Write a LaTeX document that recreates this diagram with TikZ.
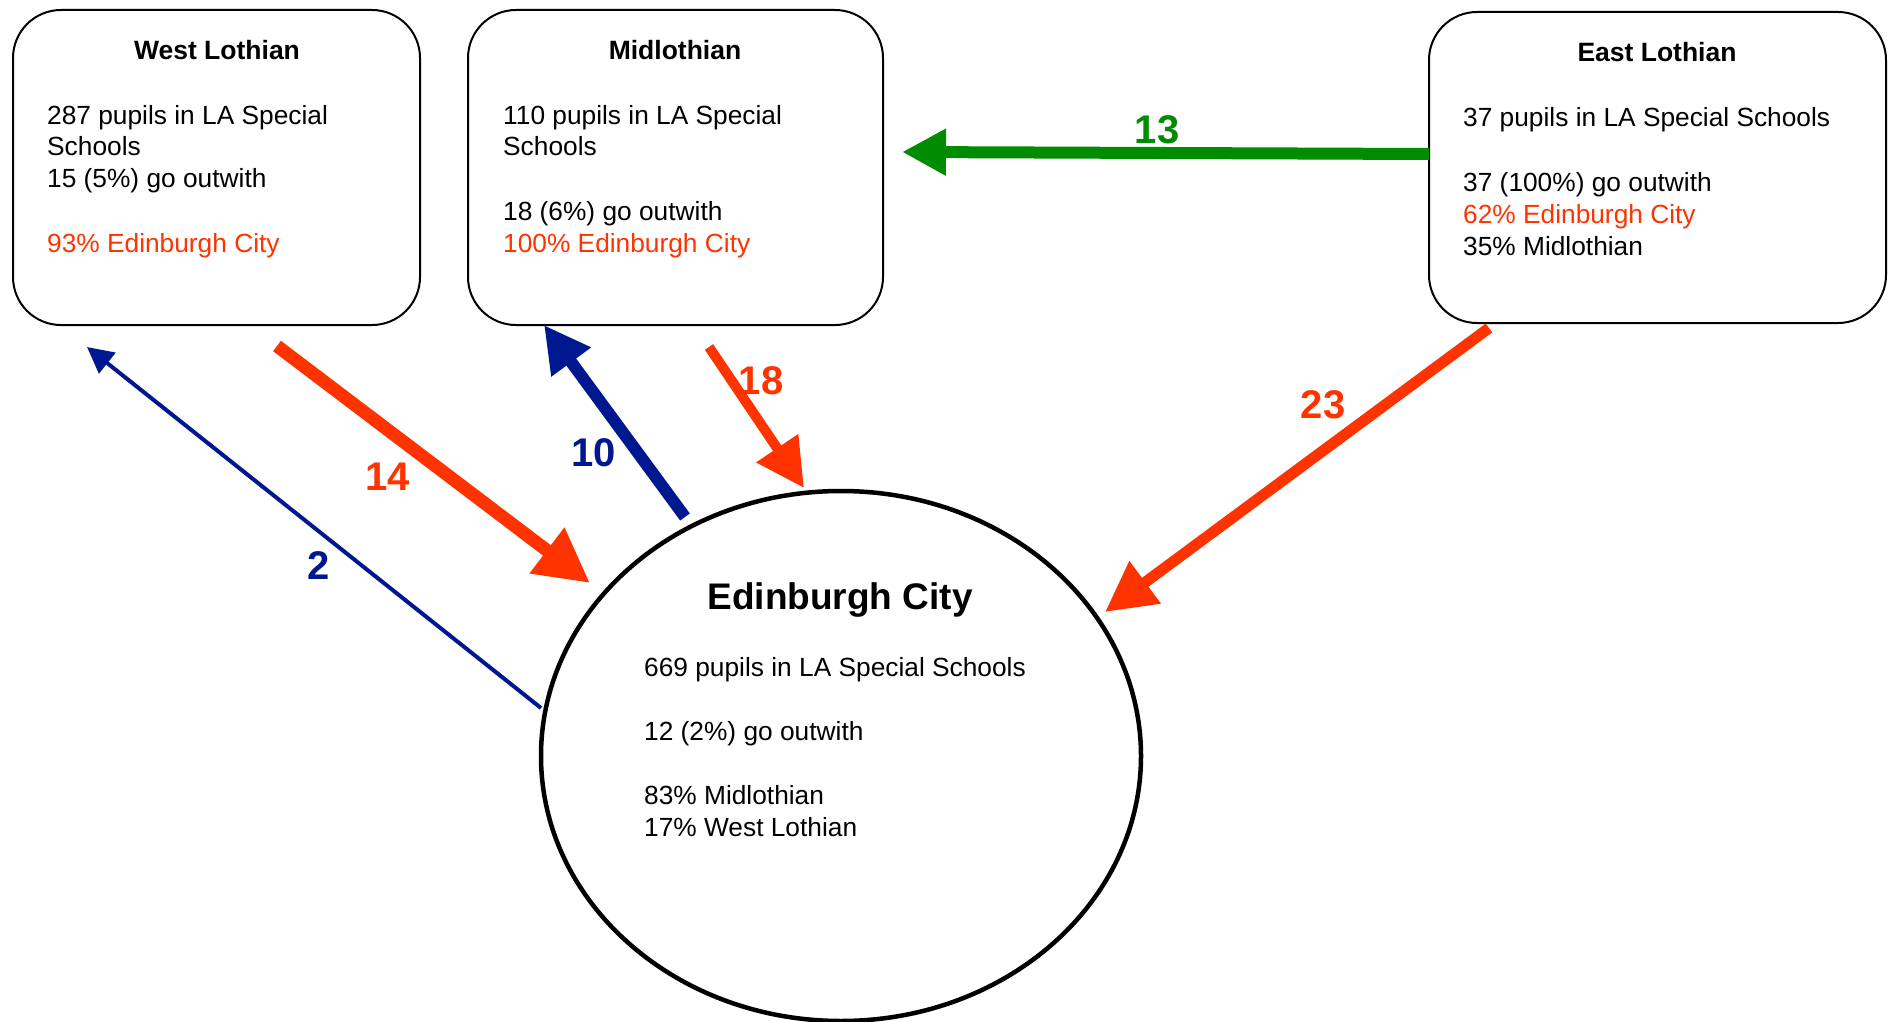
\documentclass[tikz,border=0pt]{standalone}
\usepackage{fontspec}
\setmainfont{Liberation Sans}
\usetikzlibrary{arrows.meta,shapes.geometric}
\definecolor{cred}{RGB}{255,51,0}
\definecolor{cblue}{RGB}{0,24,143}
\definecolor{cgreen}{RGB}{0,140,0}
\tikzset{
  region/.style={draw=black, line width=2pt, rounded corners=48pt, rectangle},
  body/.style={anchor=base west, inner sep=0pt, font=\fontsize{26.3}{31}\selectfont},
  ttl/.style={anchor=base, inner sep=0pt, font=\fontsize{26.5}{31}\selectfont\bfseries},
  lbl/.style={anchor=center, inner sep=0pt, font=\fontsize{40}{46}\selectfont\bfseries},
  flow/.style={-{Triangle[length=#1, width=#1]}},
}
\begin{document}
\begin{tikzpicture}[x=1pt,y=-1pt]
\useasboundingbox (0,0) rectangle (1888,1022);
% regions
\node[region, minimum width=407pt, minimum height=315pt] (west) at (216.5,167.5) {};
\node[region, minimum width=415pt, minimum height=315pt] (mid) at (675.5,167.5) {};
\node[region, minimum width=457pt, minimum height=311pt] (east) at (1657.5,167.5) {};
\node[ellipse, draw=black, line width=4.5pt, minimum width=600pt, minimum height=530pt] (city) at (841,756) {};
% West Lothian text
\node[ttl] (wt) at (217,60) {West Lothian};
\node[body] (w1) at (47,125) {287 pupils in LA Special};
\node[body] (w2) at (47,156) {Schools};
\node[body] (w3) at (47,187) {15 (5\%) go outwith};
\node[body, text=cred] (w4) at (47,252) {93\% Edinburgh City};
% Midlothian text
\node[ttl] (mt) at (675,60) {Midlothian};
\node[body] (m1) at (503,125) {110 pupils in LA Special};
\node[body] (m2) at (503,156) {Schools};
\node[body] (m3) at (503,220) {18 (6\%) go outwith};
\node[body, text=cred] (m4) at (503,252) {100\% Edinburgh City};
% East Lothian text
\node[ttl] (et) at (1657,62) {East Lothian};
\node[body] (e1) at (1463,127) {37 pupils in LA Special Schools};
\node[body] (e2) at (1463,191) {37 (100\%) go outwith};
\node[body, text=cred] (e3) at (1463,223) {62\% Edinburgh City};
\node[body] (e4) at (1463,255) {35\% Midlothian};
% Edinburgh text
\node[anchor=base, inner sep=0pt, font=\fontsize{37}{44}\selectfont\bfseries] (ct) at (840,609) {Edinburgh City};
\node[body] (c1) at (644,676) {669 pupils in LA Special Schools};
\node[body] (c2) at (644,740) {12 (2\%) go outwith};
\node[body] (c3) at (644,804) {83\% Midlothian};
\node[body] (c4) at (644,836) {17\% West Lothian};
% arrow end points
\coordinate (a2s) at (541,708); \coordinate (a2e) at (87,347);
\coordinate (a14s) at (277,346); \coordinate (a14e) at (590,583);
\coordinate (a10s) at (685,517); \coordinate (a10e) at (544,325);
\coordinate (a18s) at (709,347); \coordinate (a18e) at (804,488);
\coordinate (a13s) at (1429,154); \coordinate (a13e) at (902,152);
\coordinate (a23s) at (1489,328); \coordinate (a23e) at (1105,612);
% arrows
\draw[flow=26pt, cblue, line width=4pt] (a2s) -- (a2e);
\draw[flow=54pt, cred, line width=13pt] (a14s) -- (a14e);
\draw[flow=46pt, cblue, line width=12pt] (a10s) -- (a10e);
\draw[flow=48pt, cred, line width=10pt] (a18s) -- (a18e);
\draw[flow=44pt, cgreen, line width=12pt] (a13s) -- (a13e);
\draw[flow=50pt, cred, line width=11pt] (a23s) -- (a23e);
% labels
\node[lbl, text=cblue] (l2) at (319,566) {2};
\node[lbl, text=cred] (l14) at (388,477) {14};
\node[lbl, text=cblue] (l10) at (594,453) {10};
\node[lbl, text=cred] (l18) at (761,381) {18};
\node[lbl, text=cgreen] (l13) at (1157,130) {13};
\node[lbl, text=cred] (l23) at (1323,405) {23};
\end{tikzpicture}
\end{document}
